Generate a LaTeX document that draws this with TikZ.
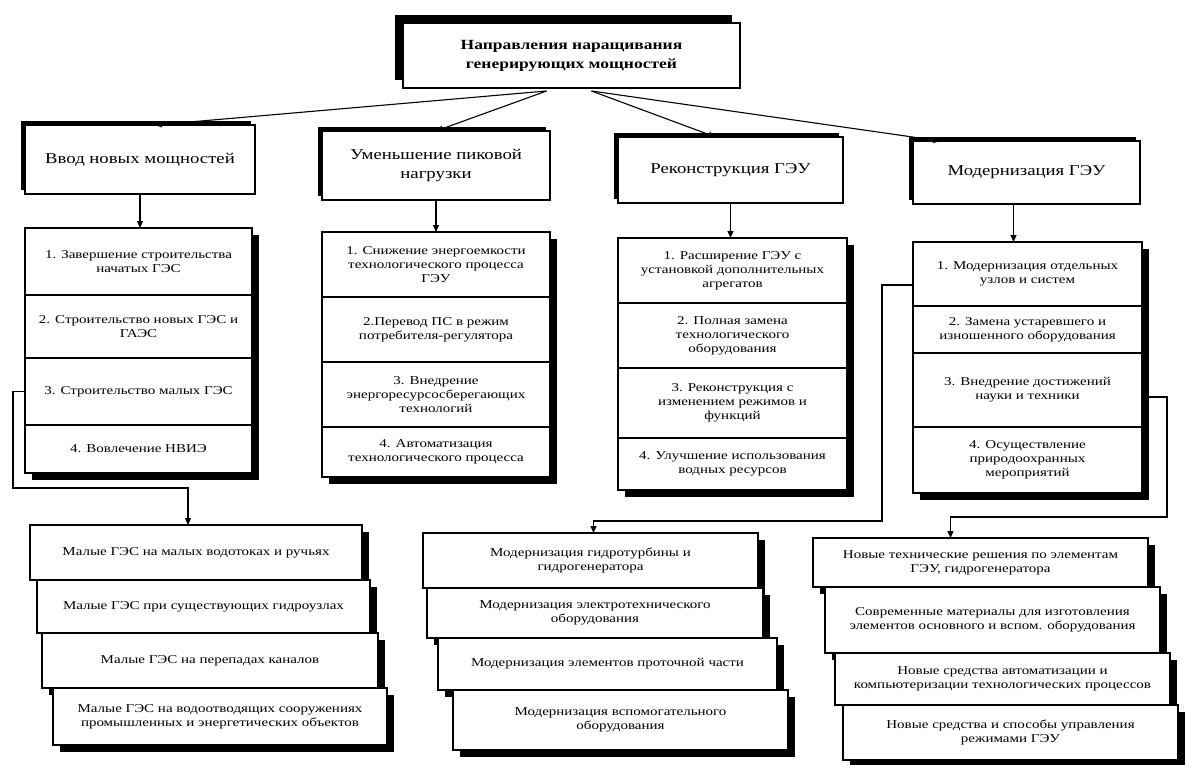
\documentclass[tikz,border=0pt]{standalone}
\usepackage{fontspec}
\setmainfont{Liberation Serif}[FakeStretch=1.25]
\usetikzlibrary{arrows.meta,calc,positioning,shadows}
\tikzset{
	pline/.style={line width=1.1pt},
	arr/.style={pline, -{Triangle[length=7pt,width=6pt]}},
	topbox/.style={draw, pline, fill=white, align=center, anchor=north west, outer sep=0pt,
		font=\fontsize{14}{19}\selectfont\bfseries,
		drop shadow={shadow xshift=-8pt, shadow yshift=8pt, fill=black, opacity=1}},
	head/.style={draw, pline, fill=white, align=center, anchor=north west, outer sep=0pt,
		font=\fontsize{15}{19}\selectfont,
		drop shadow={shadow xshift=-4pt, shadow yshift=4pt, fill=black, opacity=1}},
	cell/.style={draw, pline, fill=white, align=center, outer sep=0pt, inner sep=1pt,
		minimum width=#1, font=\fontsize{12}{14}\selectfont,
		drop shadow={shadow xshift=7pt, shadow yshift=-7pt, fill=black, opacity=1}},
	node distance=0pt
}

\begin{document}
\begin{tikzpicture}[x=1pt, y=-1pt]
   \useasboundingbox (0,0) rectangle (1186,765);

   \node[topbox, minimum width=337, minimum height=65] (top) at (403,23)
      {Направления наращивания\\генерирующих мощностей};

   \node[head, minimum width=230, minimum height=69] (b1) at (25,125) {Ввод новых мощностей};
   \node[head, minimum width=228, minimum height=69] (b2) at (322,131) {Уменьшение пиковой\\нагрузки};
   \node[head, minimum width=225, minimum height=66] (b3) at (618,137) {Реконструкция ГЭУ};
   \node[head, minimum width=227, minimum height=63] (b4) at (913,141) {Модернизация ГЭУ};

   \draw[arr] ($(top.south)+(-25,3)$) -- ([xshift=15pt]b1.north);
   \draw[arr] ($(top.south)+(-25,3)$) -- (b2.north);
   \draw[arr] ($(top.south)+(20,3)$) -- ([xshift=-15pt]b3.north);
   \draw[arr] ($(top.south)+(20,3)$) -- ([xshift=-86pt]b4.north);

   % column lists
   \node[cell=227, anchor=north west, minimum height=67] (l1a) at (25,228) {1. Завершение строительства\\начатых ГЭС};
   \node[cell=227, minimum height=63, below=of l1a] (l1b) {2. Строительство новых ГЭС и\\ГАЭС};
   \node[cell=227, minimum height=67, below=of l1b] (l1c) {3. Строительство малых ГЭС};
   \node[cell=227, minimum height=48, below=of l1c] (l1d) {4. Вовлечение НВИЭ};

   \node[cell=228, anchor=north west, minimum height=65] (l2a) at (322,232) {1. Снижение энергоемкости\\технологического процесса\\ГЭУ};
   \node[cell=228, minimum height=65, below=of l2a] (l2b) {2.Перевод ПС в режим\\потребителя-регулятора};
   \node[cell=228, minimum height=65, below=of l2b] (l2c) {3. Внедрение\\энергоресурсосберегающих\\технологий};
   \node[cell=228, minimum height=50, below=of l2c] (l2d) {4. Автоматизация\\технологического процесса};

   \node[cell=229, anchor=north west, minimum height=65] (l3a) at (618,238) {1. Расширение ГЭУ с\\установкой дополнительных\\агрегатов};
   \node[cell=229, minimum height=65, below=of l3a] (l3b) {2. Полная замена\\технологического\\оборудования};
   \node[cell=229, minimum height=70, below=of l3b] (l3c) {3. Реконструкция с\\изменением режимов и\\функций};
   \node[cell=229, minimum height=52, below=of l3c] (l3d) {4. Улучшение использования\\водных ресурсов};

   \node[cell=229, anchor=north west, minimum height=64] (l4a) at (913,242) {1. Модернизация отдельных\\узлов и систем};
   \node[cell=229, minimum height=47, below=of l4a] (l4b) {2. Замена устаревшего и\\изношенного оборудования};
   \node[cell=229, minimum height=74, below=of l4b] (l4c) {3. Внедрение достижений\\науки и техники};
   \node[cell=229, minimum height=66, below=of l4c] (l4d) {4. Осуществление\\природоохранных\\мероприятий};

   \draw[arr] (b1.south) -- (b1.south |- l1a.north);
   \draw[arr] (b2.south) -- (b2.south |- l2a.north);
   \draw[arr] (b3.south) -- (b3.south |- l3a.north);
   \draw[arr] ([xshift=-13pt]b4.south) -- ([xshift=-13pt]b4.south |- l4a.north);

   % bottom groups
   \node[cell=332, anchor=north west, minimum height=55] (g1a) at (30,525) {Малые ГЭС на малых водотоках и ручьях};
   \node[cell=333, anchor=north west, minimum height=53] (g1b) at (37,580) {Малые ГЭС при существующих гидроузлах};
   \node[cell=336, anchor=north west, minimum height=55] (g1c) at (42,633) {Малые ГЭС на перепадах каналов};
   \node[cell=334, anchor=north west, minimum height=57] (g1d) at (53,688) {Малые ГЭС на водоотводящих сооружениях\\промышленных и энергетических объектов};

   \node[cell=335, anchor=north west, minimum height=55] (g2a) at (423,533) {Модернизация гидротурбины и\\гидрогенератора};
   \node[cell=336, anchor=north west, minimum height=50] (g2b) at (427,588) {Модернизация электротехнического\\оборудования};
   \node[cell=339, anchor=north west, minimum height=52] (g2c) at (438,638) {Модернизация элементов проточной части};
   \node[cell=335, anchor=north west, minimum height=60] (g2d) at (453,690) {Модернизация вспомогательного\\оборудования};

   \node[cell=335, anchor=north west, minimum height=49] (g3a) at (813,538) {Новые технические решения по элементам\\ГЭУ, гидрогенератора};
   \node[cell=335, anchor=north west, minimum height=66] (g3b) at (825,587) {Современные материалы для изготовления\\элементов основного и вспом. оборудования};
   \node[cell=335, anchor=north west, minimum height=52] (g3c) at (835,653) {Новые средства автоматизации и\\компьютеризации технологических процессов};
   \node[cell=335, anchor=north west, minimum height=55] (g3d) at (843,705) {Новые средства и способы управления\\режимами ГЭУ};

   \draw[arr] (l1c.west) -- ++(-12,0) |- ($(g1a.north)+(-8,-37)$) -- ([xshift=-8pt]g1a.north);
   \draw[arr] ([yshift=-11pt]l4a.west) -- ++(-31,0) |- ($(g2a.north)+(3,-12)$) -- ([xshift=3pt]g2a.north);
   \draw[arr] ([yshift=-7pt]l4c.east) -- ++(25,0) |- ($(g3a.north)+(-30,-21)$) -- ([xshift=-30pt]g3a.north);
\end{tikzpicture}
\end{document}
